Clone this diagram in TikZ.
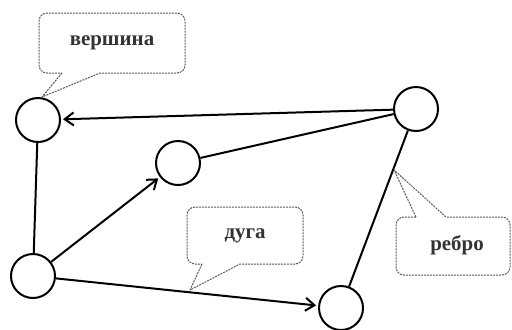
\documentclass[tikz,border=0pt]{standalone}
\usepackage{fontspec}
\setmainfont{Liberation Serif}
\usetikzlibrary{arrows.meta}
\begin{document}
\begin{tikzpicture}[x=1bp,y=-1bp,
  vertex/.style={circle,draw,line width=2bp,minimum size=44bp,inner sep=0pt},
  link/.style={line width=2bp},
  arc/.style={line width=2bp,-{Straight Barb[length=9bp,width=13bp,line width=2bp]},shorten >=2bp},
  callout/.style={draw=black!65,line width=1bp,dash pattern=on 2bp off 1bp,line join=round},
  lbl/.style={font=\fontsize{21}{24}\selectfont\bfseries,text=black!80}]
\useasboundingbox (0,0) rectangle (512,329);

% vertices
\node[vertex] (a) at (38,120) {};
\node[vertex] (b) at (178,163) {};
\node[vertex] (c) at (416,109) {};
\node[vertex] (d) at (33,276) {};
\node[vertex] (e) at (341,308) {};

% edges and arcs
\draw[arc] (c) -- (a);
\draw[link] (b) -- (c);
\draw[link] (a) -- (d);
\draw[arc] (d) -- (b);
\draw[arc] (d) -- (e);
\draw[link] (c) -- (e);

% callouts
\node[lbl] (tv) at (112,43) {вершина};
\draw[callout] (62,73) -- (42,97) -- (100,73)
  [rounded corners=8bp] -- (185,73) -- (185,13) -- (39,13) -- (39,73) [sharp corners] -- cycle;

\node[lbl] (ta) at (245,236) {дуга};
\draw[callout] (202,264) -- (190,290) -- (240,264)
  [rounded corners=8bp] -- (303,264) -- (303,207) -- (187,207) -- (187,264) [sharp corners] -- cycle;

\node[lbl] (te) at (457,245) {ребро};
\draw[callout] (416,217) -- (394,170) -- (446,217)
  [rounded corners=8bp] -- (510,217) -- (510,275) -- (396,275) -- (396,217) [sharp corners] -- cycle;
\end{tikzpicture}
\end{document}
